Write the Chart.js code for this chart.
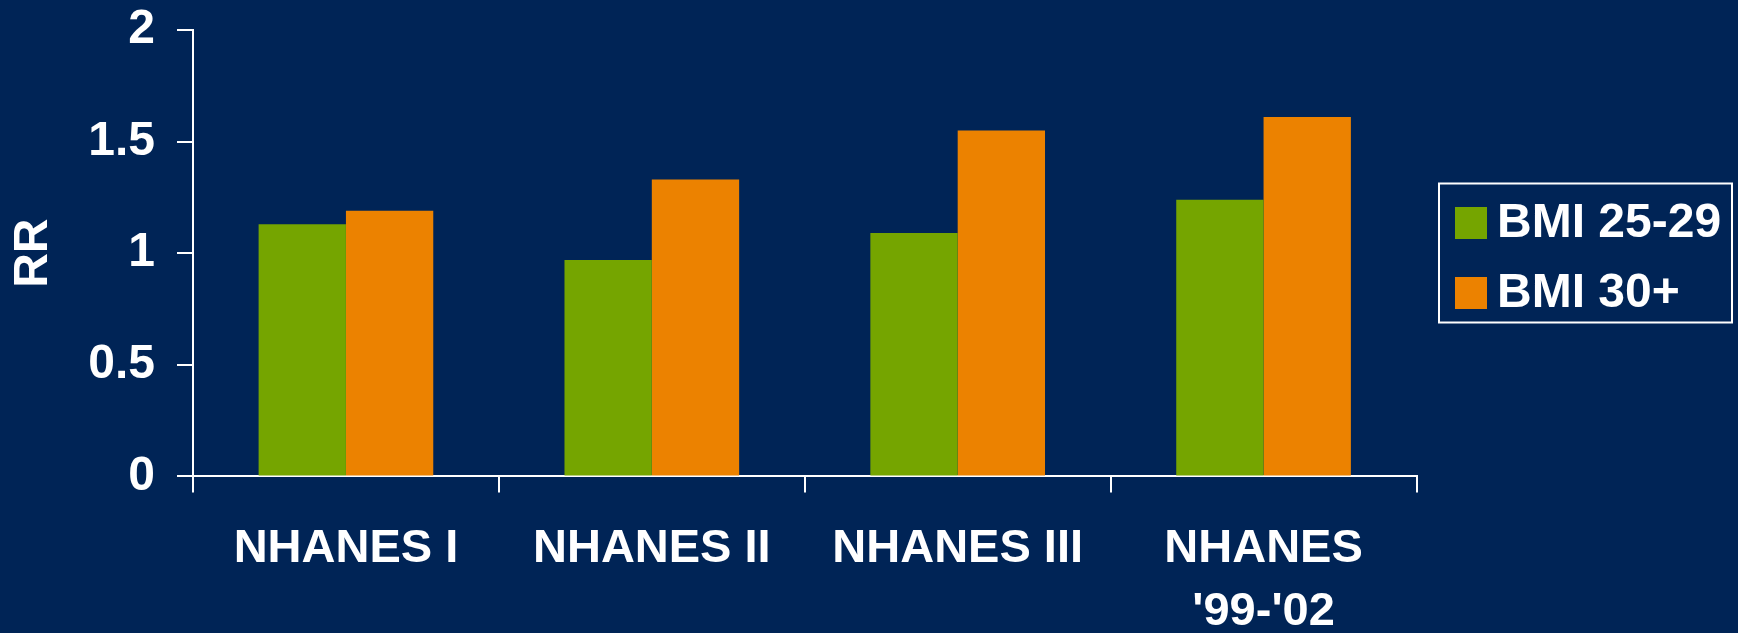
<!DOCTYPE html>
<html>

<head>
    <title>
        RR by BMI
    </title>
    <style>
        body { margin: 0; background: #002456; }
        #wrap { width: 1738px; height: 633px; position: relative; }
    </style>
</head>

<body>
    <div id="wrap"><canvas id="myChart"></canvas></div>
    <script src="https://cdn.jsdelivr.net/npm/chart.js@4/dist/chart.umd.min.js"></script>
    <script>
    var surveys = [["NHANES I"], ["NHANES II"], ["NHANES III"], ["NHANES", "'99-'02"]];
    var overweight = [1.13, 0.97, 1.09, 1.24];
    var obese = [1.19, 1.33, 1.55, 1.61];
    var seriesNames = ["BMI 25-29", "BMI 30+"];
    var seriesColors = ["#75a500", "#ec8200"];

    var font = "'Liberation Sans', Arial, sans-serif";

    // boxed legend on the right, drawn from the datasets
    var boxLegend = {
        id: 'boxLegend',
        afterDraw: function(chart) {
            var c = chart.ctx;
            c.save();
            c.strokeStyle = '#ffffff';
            c.lineWidth = 2;
            c.strokeRect(1439, 183.5, 293, 139);
            c.font = 'bold 48px ' + font;
            c.textBaseline = 'middle';
            c.textAlign = 'left';
            chart.data.datasets.forEach(function(ds, i) {
                var cy = 223 + i * 70;
                c.fillStyle = ds.backgroundColor;
                c.fillRect(1455, cy - 16, 32, 32);
                c.fillStyle = '#ffffff';
                c.fillText(ds.label, 1497, cy + 1);
            });
            c.restore();
        }
    };

    var tickFont = { family: font, weight: 'bold', size: 47, lineHeight: 1.34 };

    var ctx = document.getElementById('myChart').getContext('2d');
    var chart = new Chart(ctx, {
        type: 'bar',
        data: {
            labels: surveys,
            datasets: [{
                label: seriesNames[0],
                data: overweight,
                backgroundColor: seriesColors[0]
            }, {
                label: seriesNames[1],
                data: obese,
                backgroundColor: seriesColors[1]
            }]
        },
        options: {
            responsive: true,
            maintainAspectRatio: false,
            animation: false,
            layout: { padding: { top: 30, right: 321.5, bottom: 0, left: 0 } },
            datasets: { bar: { categoryPercentage: 0.571, barPercentage: 1.0 } },
            plugins: {
                legend: { display: false },
                tooltip: { enabled: false }
            },
            scales: {
                x: {
                    offset: true,
                    grid: { offset: true, drawOnChartArea: false, tickLength: 16, color: '#ffffff', lineWidth: 2 },
                    border: { color: '#ffffff', width: 2 },
                    ticks: { color: '#ffffff', font: tickFont, padding: 25, maxRotation: 0, autoSkip: false },
                    afterFit: function(s) { s.height = 156.6; }
                },
                y: {
                    min: 0,
                    max: 2,
                    grid: { drawOnChartArea: false, tickLength: 16, color: '#ffffff', lineWidth: 2 },
                    border: { color: '#ffffff', width: 2 },
                    ticks: {
                        stepSize: 0.5,
                        color: '#ffffff',
                        font: { family: font, weight: 'bold', size: 48 },
                        padding: 22,
                        callback: function(v) { return String(v); }
                    },
                    title: {
                        display: true,
                        text: 'RR',
                        color: '#ffffff',
                        font: { family: font, weight: 'bold', size: 48 },
                        padding: { top: 5, bottom: 0 }
                    },
                    afterFit: function(s) {
                        s.width = 193;
                        s.paddingTop = 0;
                        s.paddingBottom = 0;
                    }
                }
            }
        },
        plugins: [boxLegend]
    });
    </script>
</body>

</html>
